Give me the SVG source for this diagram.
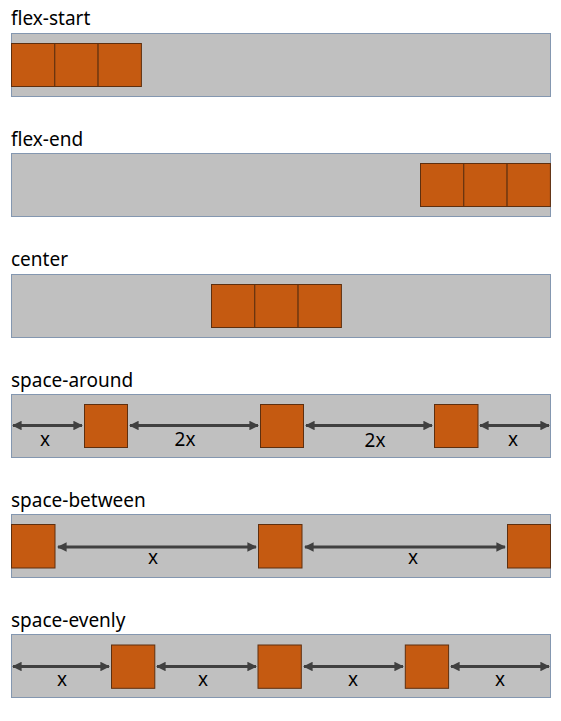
<svg xmlns="http://www.w3.org/2000/svg" width="561" height="721" viewBox="0 0 561 721">
<defs>
<style>
.lbl{font-family:"Noto Sans","Open Sans","DejaVu Sans",sans-serif;font-size:19px;fill:#000}
.gap{font-family:"Noto Sans","Open Sans","DejaVu Sans",sans-serif;font-size:19px;fill:#000;text-anchor:middle}
.cont{fill:#c0c0c0;stroke:#8497b0;stroke-width:1}
.box{fill:#c55a11;stroke:#5e2f0f;stroke-width:1}
.arr{stroke:#404040;stroke-width:3;fill:none;marker-start:url(#ah);marker-end:url(#ah)}
</style>
<marker id="ah" viewBox="0 0 10 10" refX="9" refY="5" markerWidth="3.4" markerHeight="3.2" orient="auto-start-reverse" markerUnits="strokeWidth">
<path d="M0,0 L10,5 L0,10 z" fill="#404040"/>
</marker>
</defs>

<g id="flex-start">
<text class="lbl" x="11" y="25">flex-start</text>
<rect class="cont" x="11.5" y="33.5" width="539" height="63"/>
<rect class="box" x="11.5" y="43.5" width="43.3" height="43"/>
<rect class="box" x="54.8" y="43.5" width="43.3" height="43"/>
<rect class="box" x="98.1" y="43.5" width="43.3" height="43"/>
</g>

<g id="flex-end">
<text class="lbl" x="11" y="146">flex-end</text>
<rect class="cont" x="11.5" y="153.5" width="539" height="63"/>
<rect class="box" x="420.5" y="163.5" width="43.3" height="43"/>
<rect class="box" x="463.8" y="163.5" width="43.3" height="43"/>
<rect class="box" x="507.1" y="163.5" width="43.3" height="43"/>
</g>

<g id="center">
<text class="lbl" x="11" y="266">center</text>
<rect class="cont" x="11.5" y="274.5" width="539" height="63"/>
<rect class="box" x="211.5" y="284.5" width="43.3" height="43"/>
<rect class="box" x="254.8" y="284.5" width="43.3" height="43"/>
<rect class="box" x="298.1" y="284.5" width="43.3" height="43"/>
</g>

<g id="space-around">
<text class="lbl" x="11" y="387">space-around</text>
<rect class="cont" x="11.5" y="394.5" width="539" height="63"/>
<rect class="box" x="84.5" y="404.5" width="43" height="43"/>
<rect class="box" x="260.5" y="404.5" width="43" height="43"/>
<rect class="box" x="434.5" y="404.5" width="43.5" height="43"/>
</g>

<g id="space-between">
<text class="lbl" x="11" y="507">space-between</text>
<rect class="cont" x="11.5" y="514.5" width="539" height="63"/>
<rect class="box" x="11.5" y="524.5" width="43.5" height="43.5"/>
<rect class="box" x="258.5" y="524.5" width="43.5" height="43.5"/>
<rect class="box" x="507.5" y="524.5" width="43" height="43.5"/>
</g>

<g id="space-evenly">
<text class="lbl" x="11" y="627">space-evenly</text>
<rect class="cont" x="11.5" y="634.5" width="539" height="63"/>
<rect class="box" x="111.5" y="645" width="43.3" height="43.3"/>
<rect class="box" x="258" y="645" width="43.3" height="43.3"/>
<rect class="box" x="405.3" y="645" width="43.3" height="43.3"/>
</g>

<g id="connectors">
<line class="arr" x1="13" y1="425.5" x2="82" y2="425.5"/>
<line class="arr" x1="130" y1="425.5" x2="258" y2="425.5"/>
<line class="arr" x1="306" y1="425.5" x2="432" y2="425.5"/>
<line class="arr" x1="480" y1="425.5" x2="549" y2="425.5"/>
<line class="arr" x1="58" y1="547" x2="256" y2="547"/>
<line class="arr" x1="305" y1="547" x2="505" y2="547"/>
<line class="arr" x1="13" y1="666.5" x2="109" y2="666.5"/>
<line class="arr" x1="157" y1="666.5" x2="256" y2="666.5"/>
<line class="arr" x1="304" y1="666.5" x2="403" y2="666.5"/>
<line class="arr" x1="451" y1="666.5" x2="549" y2="666.5"/>
</g>

<g id="gap-labels">
<text class="gap" x="45" y="446">x</text>
<text class="gap" x="185" y="446">2x</text>
<text class="gap" x="375" y="447">2x</text>
<text class="gap" x="513" y="446">x</text>
<text class="gap" x="153" y="564">x</text>
<text class="gap" x="413" y="564">x</text>
<text class="gap" x="62" y="686">x</text>
<text class="gap" x="203" y="686">x</text>
<text class="gap" x="353" y="686">x</text>
<text class="gap" x="500" y="686">x</text>
</g>
</svg>
